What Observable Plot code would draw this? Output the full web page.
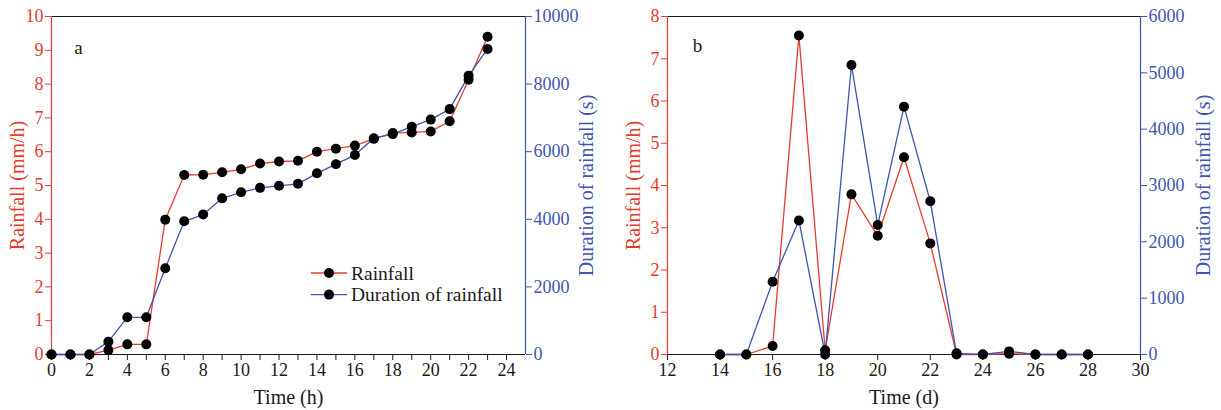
<!DOCTYPE html>
<html><head><meta charset="utf-8">
<script src="https://cdn.jsdelivr.net/npm/d3@7"></script>
<script src="https://cdn.jsdelivr.net/npm/@observablehq/plot@0.6"></script>
<style>
body{margin:0;background:#fff;}
#wrap{position:relative;width:1221px;height:410px;font-family:"Liberation Serif","Times New Roman",serif;}
#wrap > div{position:absolute;top:0;}
#leg{position:absolute;left:0;top:0;pointer-events:none;}
#wrap svg, #wrap svg text{font-family:"Liberation Serif","Times New Roman",serif !important;}
</style></head><body>
<div id="wrap"><div id="pa" style="left:0"></div><div id="pb" style="left:610px"></div><svg id="leg" width="600" height="410"></svg></div>
<script>
const RED = "#e63c2e", BLUE = "#3d56b2", INK = "#1a1a1a";
const FONT = "Liberation Serif, Times New Roman, serif";

// Panel a: hourly
const hoursA = [0,1,2,3,4,5,6,7,8,9,10,11,12,13,14,15,16,17,18,19,20,21,22,23];
const rainA  = [0,0,0,0.13,0.3,0.3,3.99,5.31,5.32,5.39,5.48,5.65,5.71,5.73,6.0,6.09,6.18,6.38,6.55,6.57,6.6,6.9,8.13,9.4];
const durA   = [0,0,0,380,1100,1100,2550,3940,4140,4620,4800,4930,4990,5050,5360,5630,5900,6400,6520,6740,6950,7260,8250,9040];
const xTicksA = [0,1,2,3,4,5,6,7,8,9,10,11,12,13,14,15,16,17,18,19,20,21,22,23,24];
const xLabelsA = [0,2,4,6,8,10,12,14,16,18,20,22,24];
const yTicksA = [0,1,2,3,4,5,6,7,8,9,10];
const rTicksA = [0,2000,4000,6000,8000,10000];

// Panel b: daily
const daysB = [14,15,16,17,18,19,20,21,22,23,24,25,26,27,28];
const rainB = [0,0,0.2,7.55,0.1,3.79,2.81,4.67,2.63,0,0,0.02,0,0,0];
const durB  = [0,0,1290,2380,0,5140,2300,4400,2720,20,0,55,0,0,0];
const xTicksB = [12,14,16,18,20,22,24,26,28,30];
const xLabelsB = [12,14,16,18,20,22,24,26,28,30];
const yTicksB = [0,1,2,3,4,5,6,7,8];
const rTicksB = [0,1000,2000,3000,4000,5000,6000];

function panel(o) {
  const data = o.t.map((d, i) => ({t: d, rain: o.rain[i], dur: o.dur[i] / o.k}));
  return Plot.plot({
    width: o.width, height: 410,
    marginLeft: o.ml, marginRight: o.mr, marginTop: 16, marginBottom: 56,
    style: {fontFamily: FONT, fontSize: "18px", background: "white", overflow: "visible"},
    x: {domain: o.xDomain},
    y: {domain: [0, o.yMax]},
    marks: [
      Plot.axisX(o.xTicks, {anchor: "bottom", tickSize: 6, tickPadding: 3, color: INK, fontSize: 18,
        tickFormat: d => o.xLabels.includes(d) ? String(d) : "", label: null}),
      Plot.axisY(o.yTicks, {anchor: "left", tickSize: 6, tickPadding: 2, color: RED, fontSize: 18,
        tickFormat: d => String(d), label: null}),
      Plot.axisY(o.rTicks.map(v => v / o.k), {anchor: "right", tickSize: 6, tickPadding: 2, color: BLUE, fontSize: 18,
        tickFormat: d => String(Math.round(d * o.k)), label: null}),
      Plot.ruleY([o.yMax], {stroke: INK, strokeWidth: 1.2}),
      Plot.ruleY([0], {stroke: INK, strokeWidth: 1.2}),
      Plot.ruleX([o.xDomain[0]], {stroke: RED, strokeWidth: 1.2}),
      Plot.ruleX([o.xDomain[1]], {stroke: BLUE, strokeWidth: 1.2}),
      Plot.line(data, {x: "t", y: "rain", stroke: RED, strokeWidth: 1.3}),
      Plot.line(data, {x: "t", y: "dur", stroke: BLUE, strokeWidth: 1.3}),
      Plot.dot(data, {x: "t", y: "rain", r: 5, fill: "black", stroke: "none"}),
      Plot.dot(data, {x: "t", y: "dur", r: 5, fill: "black", stroke: "none"}),
      Plot.text([o.leftTitle], {frameAnchor: "left", dx: o.ldx, rotate: -90, textAnchor: "middle", lineAnchor: "middle", fill: RED, fontSize: 20}),
      Plot.text([o.rightTitle], {frameAnchor: "right", dx: o.rdx, rotate: -90, textAnchor: "middle", lineAnchor: "middle", fill: BLUE, fontSize: 20}),
      Plot.text([o.xTitle], {frameAnchor: "bottom", dy: 43, textAnchor: "middle", lineAnchor: "middle", fill: INK, fontSize: 20}),
      Plot.text([o.tag], {frameAnchor: "top-left", dx: o.tdx, dy: o.tdy, textAnchor: "middle", lineAnchor: "middle", fill: INK, fontSize: 19})
    ]
  });
}

document.getElementById("pa").append(panel({
  t: hoursA, rain: rainA, dur: durA, k: 1000, xDomain: [0, 25], xTicks: xTicksA, xLabels: xLabelsA,
  yMax: 10, yTicks: yTicksA, rTicks: rTicksA, width: 600, ml: 51, mr: 75,
  leftTitle: "Rainfall (mm/h)", rightTitle: "Duration of rainfall (s)", xTitle: "Time (h)",
  ldx: -34, rdx: 61, tag: "a", tdx: 27, tdy: 31
}));
document.getElementById("pb").append(panel({
  t: daysB, rain: rainB, dur: durB, k: 750, xDomain: [12, 30], xTicks: xTicksB, xLabels: xLabelsB,
  yMax: 8, yTicks: yTicksB, rTicks: rTicksB, width: 611, ml: 57, mr: 81,
  leftTitle: "Rainfall (mm/h)", rightTitle: "Duration of rainfall (s)", xTitle: "Time (d)",
  ldx: -34, rdx: 63, tag: "b", tdx: 30, tdy: 29
}));

// legend for panel a
const legendItems = ["Rainfall", "Duration of rainfall"];
const legendColors = [RED, BLUE];
const leg = d3.select("#leg");
legendItems.forEach((name, i) => {
  const y = 273 + i * 21.6;
  leg.append("line").attr("x1", 311).attr("x2", 347).attr("y1", y).attr("y2", y)
    .attr("stroke", legendColors[i]).attr("stroke-width", 1.3);
  leg.append("circle").attr("cx", 329).attr("cy", y).attr("r", 5).attr("fill", "black");
  leg.append("text").attr("x", 351).attr("y", y).attr("dy", "0.35em")
    .attr("font-family", FONT).attr("font-size", 19.5).attr("fill", INK).text(name);
});
</script>
</body></html>
